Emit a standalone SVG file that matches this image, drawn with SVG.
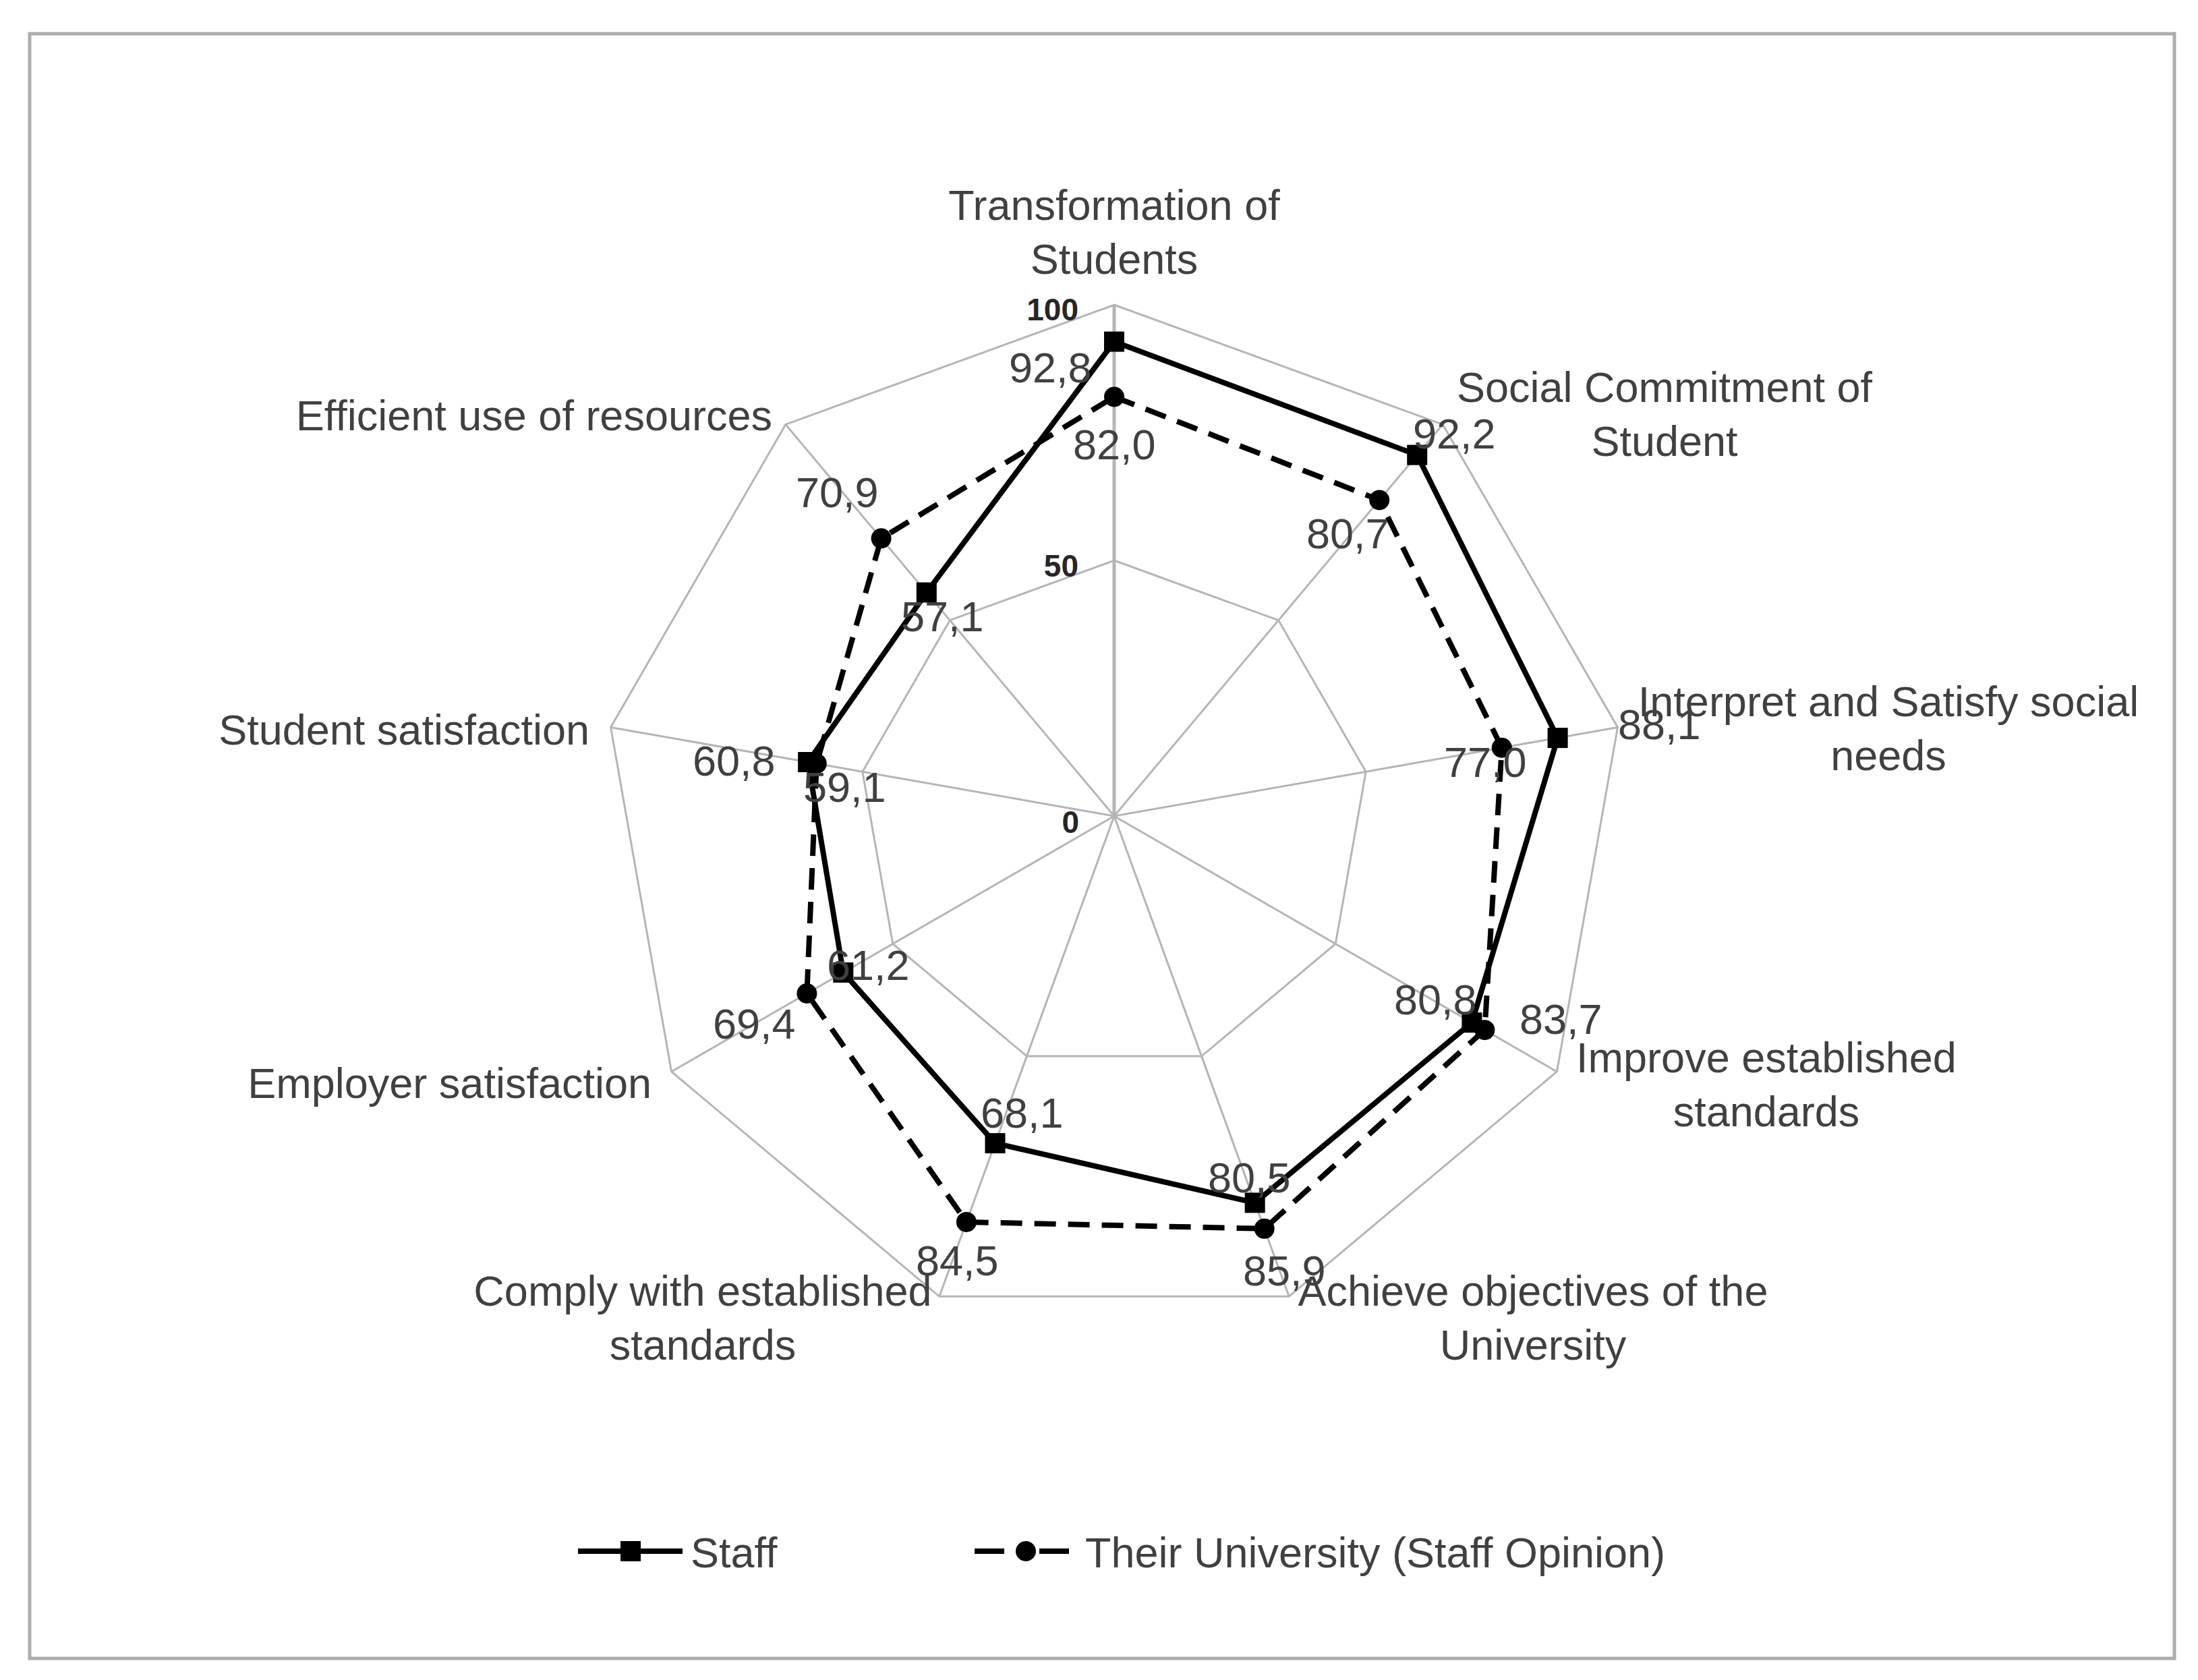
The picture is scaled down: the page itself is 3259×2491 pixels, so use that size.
<svg xmlns="http://www.w3.org/2000/svg" width="3259" height="2491" viewBox="0 0 3259 2491">
<style>
.lbl{font-family:"Liberation Sans",Arial,sans-serif;font-size:63px;fill:#404040}
.c{text-anchor:middle}
.e{text-anchor:end}
.tick{font-family:"Liberation Sans",Arial,sans-serif;font-size:46px;font-weight:bold;fill:#262626;text-anchor:end}
.grid{fill:none;stroke:#b5b5b5;stroke-width:3;stroke-linejoin:miter}
.solid{fill:none;stroke:#000;stroke-width:8;stroke-linejoin:miter}
.dash{fill:none;stroke:#000;stroke-width:8;stroke-dasharray:32 18}
.sq{fill:#000}
.dot{fill:#000}
</style>
<defs>
<rect id="sqm" x="-15" y="-15" width="30" height="30" class="sq"/>
<circle id="dotm" r="15" class="dot"/>
</defs>
<rect x="0" y="0" width="3259" height="2491" fill="#fff"/>
<rect id="frame" x="44" y="50" width="3180" height="2409" fill="#fff" stroke="#adadad" stroke-width="5"/>

<g id="grid">
<polygon class="grid" points="1652,452 2139.2,629.4 2398.5,1078.4 2308.4,1589 1911.2,1922.3 1392.8,1922.3 995.6,1589 905.5,1078.4 1164.8,629.4"/>
<polygon class="grid" points="1652,831 1895.6,919.7 2025.2,1144.2 1980.2,1399.5 1781.6,1566.1 1522.4,1566.1 1323.8,1399.5 1278.8,1144.2 1408.4,919.7"/>
<line class="grid" x1="1652" y1="1210" x2="1652" y2="452" style="stroke-width:5"/>
<line class="grid" x1="1652" y1="1210" x2="2139.2" y2="629.4"/>
<line class="grid" x1="1652" y1="1210" x2="2398.5" y2="1078.4"/>
<line class="grid" x1="1652" y1="1210" x2="2308.4" y2="1589"/>
<line class="grid" x1="1652" y1="1210" x2="1911.2" y2="1922.3"/>
<line class="grid" x1="1652" y1="1210" x2="1392.8" y2="1922.3"/>
<line class="grid" x1="1652" y1="1210" x2="995.6" y2="1589"/>
<line class="grid" x1="1652" y1="1210" x2="905.5" y2="1078.4"/>
<line class="grid" x1="1652" y1="1210" x2="1164.8" y2="629.4"/>
</g>

<g id="ticks">
<text class="tick" x="1599" y="475">100</text>
<text class="tick" x="1599" y="855">50</text>
<text class="tick" x="1600" y="1235">0</text>
</g>

<g id="connectors">
<polygon id="staff-line" class="solid" points="1652,506.6 2101.2,674.6 2309.6,1094.1 2182.4,1516.2 1860.7,1783.4 1475.5,1695.1 1250.3,1442 1198.1,1130 1373.8,878.5"/>
<polygon id="univ-line" class="dash" points="1652,588.4 2045.2,741.4 2226.8,1108.7 2201.4,1527.2 1874.7,1821.8 1432.9,1811.9 1196.4,1473 1210.8,1132.2 1306.6,798.3"/>
</g>

<g id="staff-markers">
<use href="#sqm" x="1652" y="506.6"/>
<use href="#sqm" x="2101.2" y="674.6"/>
<use href="#sqm" x="2309.6" y="1094.1"/>
<use href="#sqm" x="2182.4" y="1516.2"/>
<use href="#sqm" x="1860.7" y="1783.4"/>
<use href="#sqm" x="1475.5" y="1695.1"/>
<use href="#sqm" x="1250.3" y="1442"/>
<use href="#sqm" x="1198.1" y="1130"/>
<use href="#sqm" x="1373.8" y="878.5"/>
</g>
<g id="univ-markers">
<use href="#dotm" x="1652" y="588.4"/>
<use href="#dotm" x="2045.2" y="741.4"/>
<use href="#dotm" x="2226.8" y="1108.7"/>
<use href="#dotm" x="2201.4" y="1527.2"/>
<use href="#dotm" x="1874.7" y="1821.8"/>
<use href="#dotm" x="1432.9" y="1811.9"/>
<use href="#dotm" x="1196.4" y="1473"/>
<use href="#dotm" x="1210.8" y="1132.2"/>
<use href="#dotm" x="1306.6" y="798.3"/>
</g>

<g id="data-labels">
<text class="lbl" x="1496" y="567">92,8</text>
<text class="lbl" x="1591" y="681">82,0</text>
<text class="lbl" x="2095" y="665">92,2</text>
<text class="lbl" x="1937" y="813">80,7</text>
<text class="lbl" x="2399" y="1096">88,1</text>
<text class="lbl" x="2141" y="1152">77,0</text>
<text class="lbl" x="2067" y="1504">80,8</text>
<text class="lbl" x="2253" y="1533">83,7</text>
<text class="lbl" x="1791" y="1768">80,5</text>
<text class="lbl" x="1843" y="1906">85,9</text>
<text class="lbl" x="1454" y="1672">68,1</text>
<text class="lbl" x="1358" y="1891">84,5</text>
<text class="lbl" x="1226" y="1453">61,2</text>
<text class="lbl" x="1057" y="1540">69,4</text>
<text class="lbl" x="1027" y="1150">60,8</text>
<text class="lbl" x="1191" y="1189">59,1</text>
<text class="lbl" x="1336" y="936">57,1</text>
<text class="lbl" x="1180" y="752">70,9</text>
</g>

<g id="axis-transformation"><text class="lbl c" x="1652" y="326">Transformation of</text><text class="lbl c" x="1652" y="406">Students</text></g>
<g id="axis-social"><text class="lbl c" x="2468" y="596">Social Commitment of</text><text class="lbl c" x="2468" y="676">Student</text></g>
<g id="axis-interpret"><text class="lbl c" x="2800" y="1062">Interpret and Satisfy social</text><text class="lbl c" x="2800" y="1142">needs</text></g>
<g id="axis-improve"><text class="lbl c" x="2619" y="1590">Improve established</text><text class="lbl c" x="2619" y="1670">standards</text></g>
<g id="axis-achieve"><text class="lbl c" x="2273" y="1936">Achieve objectives of the</text><text class="lbl c" x="2273" y="2016">University</text></g>
<g id="axis-comply"><text class="lbl c" x="1042" y="1936">Comply with established</text><text class="lbl c" x="1042" y="2016">standards</text></g>
<g id="axis-employer"><text class="lbl e" x="966" y="1628">Employer satisfaction</text></g>
<g id="axis-student"><text class="lbl e" x="874" y="1104">Student satisfaction</text></g>
<g id="axis-efficient"><text class="lbl e" x="1145" y="638">Efficient use of resources</text></g>

<g id="legend">
<g id="legend-staff">
<line x1="857" y1="2300" x2="1012" y2="2300" stroke="#000" stroke-width="8"/>
<use href="#sqm" x="935" y="2300"/>
<text class="lbl" x="1024" y="2324">Staff</text>
</g>
<g id="legend-univ">
<line x1="1445" y1="2300" x2="1586" y2="2300" stroke="#000" stroke-width="8" stroke-dasharray="44 52"/>
<use href="#dotm" x="1521" y="2300"/>
<text class="lbl" x="1609" y="2324">Their University (Staff Opinion)</text>
</g>
</g>
</svg>
